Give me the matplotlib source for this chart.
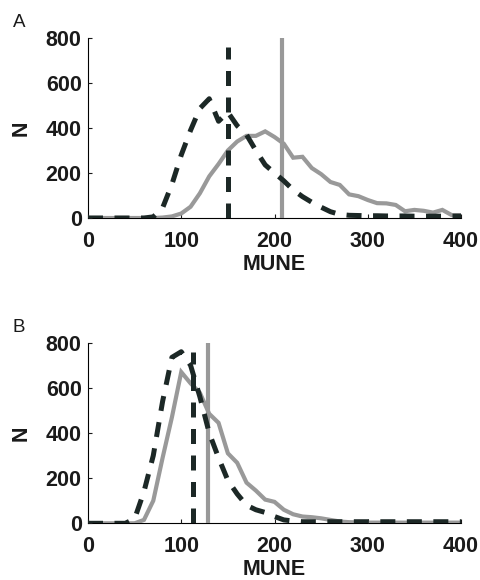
import numpy as np
import matplotlib
matplotlib.use("Agg")
import matplotlib.pyplot as plt

# MUNE bins (width 10) shared by both panels
mune = np.arange(0, 401, 10)

# Panel A distributions
a_gray = [0, 0, 0, 0, 0, 0, 0, 0, 2, 7, 20, 50, 110, 185, 240, 300, 340, 365,
          365, 385, 360, 330, 268, 272, 222, 195, 160, 147, 105, 97, 80, 66,
          65, 58, 30, 36, 32, 24, 36, 13, 13]
a_dash = [0, 0, 0, 0, 0, 0, 0, 5, 45, 150, 280, 390, 487, 530, 430, 470, 410,
          370, 300, 236, 200, 165, 125, 95, 70, 48, 28, 16, 12, 11, 10, 10, 9,
          9, 9, 8, 8, 8, 8, 8, 8]

# Panel B distributions
b_gray = [0, 0, 0, 0, 0, 0, 15, 100, 290, 470, 670, 620, 578, 485, 445, 310,
          268, 180, 145, 105, 95, 60, 40, 30, 27, 22, 15, 8, 5, 4, 3, 3, 3, 3,
          3, 3, 3, 3, 3, 3, 3]
b_dash = [0, 0, 0, 0, 0, 20, 140, 300, 540, 735, 760, 700, 560, 400, 290, 190,
          130, 80, 60, 48, 30, 15, 10, 7, 7, 7, 7, 7, 7, 7, 7, 7, 7, 7, 7, 7,
          7, 7, 7, 7, 7]

# Reference markers (position, height)
a_mark_dash = (150, 760)
a_mark_gray = (208, 800)
b_mark_dash = (113, 760)
b_mark_gray = (129, 800)

panel_labels = ["A", "B"]
x_ticks = [0, 100, 200, 300, 400]
y_ticks = [0, 200, 400, 600, 800]

GRAY = "#999999"
DARK = "#1c2826"
FONT = "Liberation Sans"

fig = plt.figure(figsize=(4.81, 5.80), dpi=100)
W, H = 481.0, 580.0

panels = [
    (a_gray, a_dash, a_mark_gray, a_mark_dash, 38.0, 218.0),
    (b_gray, b_dash, b_mark_gray, b_mark_dash, 342.7, 523.3),
]

for idx, (gray, dash, mg, md, top, bot) in enumerate(panels):
    ax = fig.add_axes([88 / W, 1 - bot / H, 373 / W, (bot - top) / H])
    ax.plot(mune, gray, color=GRAY, lw=3.0, solid_joinstyle="miter", zorder=2)
    ax.plot([mg[0], mg[0]], [0, mg[1]], color=GRAY, lw=3.0, zorder=2,
            solid_capstyle="butt")
    ax.plot(mune, dash, color=DARK, lw=3.6, dashes=(3, 2.3), zorder=3,
            dash_capstyle="butt")
    ax.plot([md[0], md[0]], [0, md[1]], color=DARK, lw=3.6, dashes=(3, 2.3),
            zorder=3, dash_capstyle="butt")

    ax.set_xlim(0, 400)
    ax.set_ylim(0, 800)
    ax.set_xticks(x_ticks)
    ax.set_yticks(y_ticks)
    for s in ("top", "right"):
        ax.spines[s].set_visible(False)
    for s in ("left", "bottom"):
        ax.spines[s].set_linewidth(0.8)
        ax.spines[s].set_color("black")
        ax.spines[s].set_zorder(1)
    ax.tick_params(axis="both", direction="in", length=3, width=0.8,
                   labelsize=15.5, colors="#1a1a1a")
    ax.tick_params(axis="x", pad=9.5)
    ax.tick_params(axis="y", pad=4.5)
    for lab in ax.get_xticklabels() + ax.get_yticklabels():
        lab.set_fontfamily(FONT)
        lab.set_fontweight("bold")
    ax.set_xlabel("MUNE", fontsize=15.5, fontweight="bold", family=FONT,
                  labelpad=1.2, color="#1a1a1a")
    ax.set_ylabel("N", fontsize=15.5, fontweight="bold", family=FONT,
                  labelpad=10, color="#1a1a1a")
    ax.patch.set_visible(False)

    fig.text(13 / W, 1 - (top - 11) / H, panel_labels[idx], fontsize=13.5,
             family=FONT, color="#1a1a1a", ha="left", va="baseline")

fig.savefig("out.png", dpi=100)
